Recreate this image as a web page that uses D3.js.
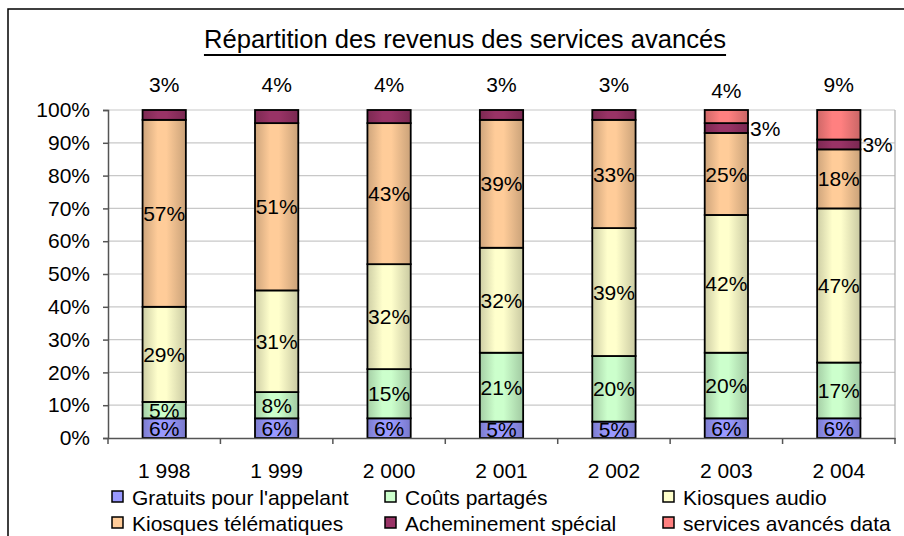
<!DOCTYPE html>
<html>
<head>
<meta charset="utf-8">
<script src="https://cdn.jsdelivr.net/npm/d3@7"></script>
<style>
  html, body { margin: 0; padding: 0; background: #fff; }
  svg { display: block; font-family: "Liberation Sans", Arial, sans-serif; }
</style>
</head>
<body>
<svg id="chart" width="904" height="536"></svg>
<script>
// Revenue share per year (percent of total)
const years = ["1 998", "1 999", "2 000", "2 001", "2 002", "2 003", "2 004"];
const seriesNames = [
  "Gratuits pour l'appelant",
  "Coûts partagés",
  "Kiosques audio",
  "Kiosques télématiques",
  "Acheminement spécial",
  "services avancés data"
];
const gratuits             = [6, 6, 6, 5, 5, 6, 6];
const coutsPartages        = [5, 8, 15, 21, 20, 20, 17];
const kiosquesAudio        = [29, 31, 32, 32, 39, 42, 47];
const kiosquesTelematiques = [57, 51, 43, 39, 33, 25, 18];
const acheminement         = [3, 4, 4, 3, 3, 3, 3];
const servicesData         = [0, 0, 0, 0, 0, 4, 9];
const yTickValues = [0, 10, 20, 30, 40, 50, 60, 70, 80, 90, 100];
const seriesColors = ["#9999ff", "#ccffcc", "#ffffcc", "#ffcc99", "#993366", "#ff8080"];

const seriesValues = [gratuits, coutsPartages, kiosquesAudio, kiosquesTelematiques, acheminement, servicesData];
const keys = seriesNames.map((_, i) => "s" + i);
const rows = years.map((yr, j) => {
  const r = { year: yr };
  keys.forEach((k, i) => r[k] = seriesValues[i][j]);
  return r;
});

const svg = d3.select("#chart");
const font = 21;
const plot = { left: 108, right: 895, top: 110, bottom: 438 };

// Bar shading: darker edges, light band left of centre
const defs = svg.append("defs");
seriesColors.forEach((c, i) => {
  const g = defs.append("linearGradient").attr("id", "grad" + i)
    .attr("x1", "0%").attr("x2", "100%").attr("y1", "0%").attr("y2", "0%");
  const base = d3.color(c);
  g.append("stop").attr("offset", "0%").attr("stop-color", base.darker(0.6));
  g.append("stop").attr("offset", "35%").attr("stop-color", base);
  g.append("stop").attr("offset", "55%").attr("stop-color", base);
  g.append("stop").attr("offset", "100%").attr("stop-color", base.darker(0.65));
});

// Outer frame
svg.append("rect").attr("x", 8).attr("y", 9).attr("width", 940).attr("height", 560)
  .attr("fill", "none").attr("stroke", "#000").attr("stroke-width", 1.5);

// Title
const title = svg.append("text").attr("x", 465).attr("y", 48)
  .attr("text-anchor", "middle").attr("font-size", 25.6).attr("fill", "#000")
  .text("Répartition des revenus des services avancés");
const tw = title.node().getComputedTextLength();
svg.append("line").attr("x1", 465 - tw / 2).attr("x2", 465 + tw / 2)
  .attr("y1", 55).attr("y2", 55).attr("stroke", "#000").attr("stroke-width", 2);

const x = d3.scaleBand().domain(years).range([plot.left, plot.right])
  .paddingInner(0.615).paddingOuter(0.3075);
const y = d3.scaleLinear().domain([0, 100]).range([plot.bottom, plot.top]);

// Gridlines
svg.append("g").selectAll("line").data(yTickValues.filter(d => d > 0)).join("line")
  .attr("x1", plot.left).attr("x2", plot.right)
  .attr("y1", d => y(d)).attr("y2", d => y(d))
  .attr("stroke", "#c8c8c8").attr("stroke-width", 1.2);
svg.append("line").attr("x1", plot.right).attr("x2", plot.right)
  .attr("y1", plot.top).attr("y2", plot.bottom).attr("stroke", "#b0b0b0").attr("stroke-width", 1.2);

// Y axis
const yAxis = svg.append("g").attr("transform", `translate(${plot.left},0)`)
  .call(d3.axisLeft(y).tickValues(yTickValues).tickFormat(d => d + "%").tickSize(5).tickPadding(13));
yAxis.select(".domain").attr("stroke", "#555").attr("stroke-width", 1.5);
yAxis.selectAll(".tick line").attr("stroke", "#555").attr("stroke-width", 1.5);
yAxis.selectAll("text").attr("font-size", font).attr("fill", "#000")
  .attr("font-family", "Liberation Sans, Arial, sans-serif");

// Stacked bars
const stack = d3.stack().keys(keys)(rows);
const layers = svg.append("g").selectAll("g").data(stack).join("g")
  .attr("fill", (d, i) => `url(#grad${i})`);
layers.selectAll("rect").data(d => d.filter(s => s[1] - s[0] > 0)).join("rect")
  .attr("x", d => x(d.data.year))
  .attr("width", x.bandwidth())
  .attr("y", d => y(d[1]))
  .attr("height", d => y(d[0]) - y(d[1]))
  .attr("stroke", "#000").attr("stroke-width", 1.8);

// X axis
const xAxis = svg.append("g").attr("transform", `translate(0,${plot.bottom})`)
  .call(d3.axisBottom(x).tickSize(0).tickPadding(25));
xAxis.select(".domain").attr("stroke", "#555").attr("stroke-width", 1.5);
xAxis.selectAll("text").attr("font-size", font).attr("fill", "#000")
  .attr("font-family", "Liberation Sans, Arial, sans-serif");
const step = x.step();
svg.append("g").selectAll("line").data(d3.range(years.length + 1)).join("line")
  .attr("x1", i => plot.left + i * step).attr("x2", i => plot.left + i * step)
  .attr("y1", plot.bottom).attr("y2", plot.bottom + 6)
  .attr("stroke", "#555").attr("stroke-width", 1.5);

// Value labels
const labels = svg.append("g").attr("font-size", font).attr("fill", "#000");
stack.forEach((layer, i) => {
  layer.forEach((seg, j) => {
    const v = seg[1] - seg[0];
    if (v <= 0) return;
    const cx = x(seg.data.year) + x.bandwidth() / 2;
    const hasTopSeg = servicesData[j] > 0;
    let lx = cx, ly = (y(seg[0]) + y(seg[1])) / 2, anchor = "middle";
    if (i === 5 || (i === 4 && !hasTopSeg)) {
      // topmost thin segment: label above the bar
      ly = plot.top - 26 + (j === 5 ? 6 : 0);
    } else if (i === 4) {
      // thin segment under another: label to the right
      lx = x(seg.data.year) + x.bandwidth() + 2;
      anchor = "start";
    }
    labels.append("text").attr("x", lx).attr("y", ly).attr("dy", "0.36em")
      .attr("text-anchor", anchor).text(v + "%");
  });
});

// Legend
const legendCols = [112, 385, 663];
const legendRows = [491, 517];
const legend = svg.append("g");
seriesNames.forEach((name, i) => {
  const lx = legendCols[i % 3], ly = legendRows[Math.floor(i / 3)];
  legend.append("rect").attr("x", lx).attr("y", ly).attr("width", 11).attr("height", 11)
    .attr("fill", seriesColors[i]).attr("stroke", "#000").attr("stroke-width", 1.5);
  legend.append("text").attr("x", lx + 20).attr("y", ly + 6).attr("dy", "0.36em")
    .attr("font-size", font).attr("fill", "#000").text(name);
});
</script>
</body>
</html>
